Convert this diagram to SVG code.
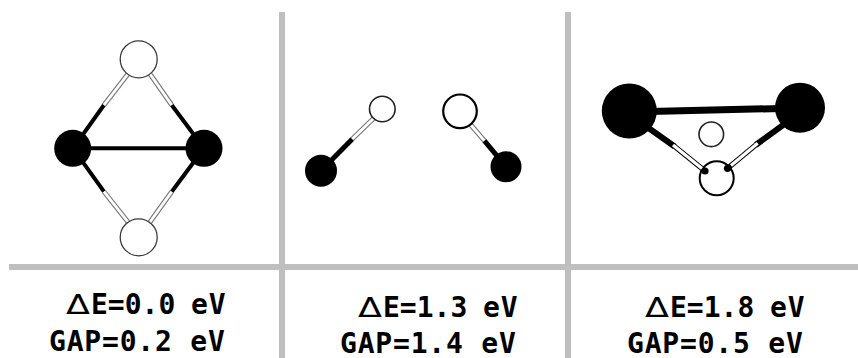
<svg xmlns="http://www.w3.org/2000/svg" width="858" height="358" viewBox="0 0 858 358">
<style>
.rule{fill:#bfbfbf}
.blk{fill:#000}
.wht{fill:#fff;stroke:#3a3a3a;stroke-width:1.3}
.b{stroke:#000;fill:none}
.o{stroke:#777;stroke-width:5;fill:none}
.i{stroke:#fff;stroke-width:2.8;fill:none}
.ok{stroke:#000;stroke-width:5.2;fill:none}
.ik{stroke:#fff;stroke-width:3.2;fill:none}
.t{font-family:"DejaVu Sans Mono","Liberation Mono",monospace;font-weight:700;font-size:28px;fill:#000}
.d{font-family:"DejaVu Sans","Liberation Sans",sans-serif;font-weight:400;font-size:27px;fill:#000}
</style>
<rect width="858" height="358" fill="#fff"/>
<g id="grid">
<rect class="rule" x="9" y="264" width="849" height="6"/>
<rect class="rule" x="279" y="12" width="6" height="346"/>
<rect class="rule" x="565" y="12" width="6" height="346"/>
</g>
<g id="p3-atom-bottom"><circle class="wht" style="stroke:#000;stroke-width:2" cx="716.7" cy="178.3" r="17"/></g>
<g id="connectors">
<line class="b" stroke-width="4" x1="73" y1="148.3" x2="204" y2="148.3"/>
<line class="b" stroke-width="4" x1="73" y1="148.3" x2="104" y2="105"/>
<line class="o" x1="104" y1="105" x2="128" y2="74"/><line class="i" x1="104" y1="105" x2="128" y2="74"/>
<line class="b" stroke-width="4" x1="204" y1="148.3" x2="171.7" y2="105"/>
<line class="o" x1="171.7" y1="105" x2="150" y2="74"/><line class="i" x1="171.7" y1="105" x2="150" y2="74"/>
<line class="b" stroke-width="4" x1="73" y1="148.3" x2="104" y2="191.7"/>
<line class="o" x1="104" y1="191.7" x2="128" y2="222"/><line class="i" x1="104" y1="191.7" x2="128" y2="222"/>
<line class="b" stroke-width="4" x1="204" y1="148.3" x2="171.7" y2="191.7"/>
<line class="o" x1="171.7" y1="191.7" x2="150" y2="222"/><line class="i" x1="171.7" y1="191.7" x2="150" y2="222"/>
<line class="b" stroke-width="5" x1="321" y1="170.7" x2="352.3" y2="139"/>
<line class="o" x1="352.3" y1="139" x2="375" y2="117"/><line class="i" x1="352.3" y1="139" x2="375" y2="117"/>
<line class="b" stroke-width="5" x1="506" y1="166.7" x2="484.3" y2="140.7"/>
<line class="o" x1="484.3" y1="140.7" x2="470" y2="124"/><line class="i" x1="484.3" y1="140.7" x2="470" y2="124"/>
<line class="b" stroke-width="7" x1="629.3" y1="112" x2="800" y2="108"/>
<line class="b" stroke-width="6" x1="640" y1="122" x2="675" y2="146.7"/>
<line class="ok" x1="675" y1="146.7" x2="705" y2="171"/><line class="ik" x1="673" y1="145.1" x2="702" y2="168.6"/>
<line class="b" stroke-width="6" x1="790" y1="120" x2="755.7" y2="145"/>
<line class="ok" x1="755.7" y1="145" x2="728" y2="168"/><line class="ik" x1="757.7" y1="143.3" x2="731" y2="165.5"/>
<circle class="blk" cx="705" cy="171" r="3.6"/><circle class="blk" cx="727.5" cy="168.3" r="3.6"/>
</g>
<g id="p1-atom-top"><circle class="wht" cx="138.7" cy="59.3" r="18.5"/></g>
<g id="p1-atom-left"><circle class="blk" cx="72.7" cy="148.3" r="18.5"/></g>
<g id="p1-atom-right"><circle class="blk" cx="204" cy="148.3" r="18.5"/></g>
<g id="p1-atom-bottom"><circle class="wht" cx="138.7" cy="237.3" r="18.5"/></g>
<g id="p2-atom-small"><circle class="wht" style="stroke:#222;stroke-width:1.6" cx="382.3" cy="109" r="12.8"/></g>
<g id="p2-atom-black-left"><circle class="blk" cx="321" cy="170.7" r="16"/></g>
<g id="p2-atom-large"><circle class="wht" style="stroke:#000;stroke-width:2.2" cx="460" cy="111.3" r="16.8"/></g>
<g id="p2-atom-black-right"><circle class="blk" cx="506" cy="166.7" r="15.5"/></g>
<g id="p3-atom-left"><circle class="blk" cx="629.3" cy="111" r="27.5"/></g>
<g id="p3-atom-right"><circle class="blk" cx="800" cy="107.7" r="25"/></g>
<g id="p3-atom-center"><circle class="wht" style="stroke:#222;stroke-width:1.6" cx="711.3" cy="134.3" r="12.3"/></g>
<g id="labels">
<text class="d" x="66" y="314" textLength="24" lengthAdjust="spacingAndGlyphs">Δ</text>
<text class="t" y="314"><tspan x="91">E=0.0</tspan><tspan x="191" letter-spacing="0.8">eV</tspan></text>
<text class="t" x="49" y="351" letter-spacing="0.8">GAP=0.2 eV</text>
<text class="d" x="358" y="317" textLength="24" lengthAdjust="spacingAndGlyphs">Δ</text>
<text class="t" y="317"><tspan x="383">E=1.3</tspan><tspan x="483" letter-spacing="0.8">eV</tspan></text>
<text class="t" x="340" y="352.5" letter-spacing="0.8">GAP=1.4 eV</text>
<text class="d" x="645" y="317" textLength="24" lengthAdjust="spacingAndGlyphs">Δ</text>
<text class="t" y="317"><tspan x="670">E=1.8</tspan><tspan x="770" letter-spacing="0.8">eV</tspan></text>
<text class="t" x="627" y="352.5" letter-spacing="0.8">GAP=0.5 eV</text>
</g>
</svg>
